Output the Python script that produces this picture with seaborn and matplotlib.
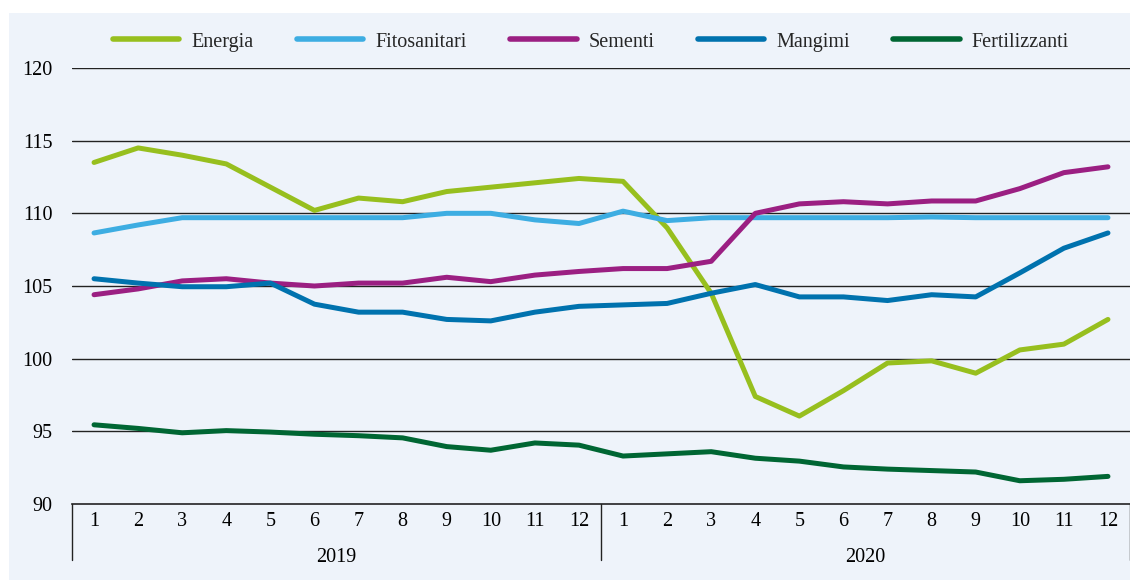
import pandas as pd
import matplotlib.pyplot as plt
import matplotlib.patches as mpatches
import matplotlib.transforms as mtransforms
import seaborn as sns

# Data
months = [str(m) for m in range(1, 13)] * 2
years = ['2019', '2020']

energia = [113.5, 114.5, 114.0, 113.4, 111.8, 110.2, 111.05, 110.8, 111.5, 111.8, 112.1, 112.4,
           112.2, 109.0, 104.5, 97.4, 96.05, 97.8, 99.7, 99.85, 99.0, 100.6, 101.0, 102.7]
fitosanitari = [108.65, 109.2, 109.7, 109.7, 109.7, 109.7, 109.7, 109.7, 110.0, 110.0, 109.55, 109.3,
                110.15, 109.5, 109.7, 109.7, 109.7, 109.7, 109.7, 109.75, 109.7, 109.7, 109.7, 109.7]
sementi = [104.4, 104.8, 105.35, 105.5, 105.2, 105.0, 105.2, 105.2, 105.6, 105.3, 105.75, 106.0,
           106.2, 106.2, 106.7, 110.0, 110.65, 110.8, 110.65, 110.85, 110.85, 111.7, 112.8, 113.2]
mangimi = [105.5, 105.2, 104.95, 104.95, 105.2, 103.75, 103.2, 103.2, 102.7, 102.6, 103.2, 103.6,
           103.7, 103.8, 104.5, 105.1, 104.25, 104.25, 104.0, 104.4, 104.25, 105.9, 107.6, 108.65]
fertilizzanti = [95.45, 95.2, 94.9, 95.05, 94.95, 94.8, 94.7, 94.55, 93.95, 93.7, 94.2, 94.05,
                 93.3, 93.45, 93.6, 93.15, 92.95, 92.55, 92.4, 92.3, 92.2, 91.6, 91.7, 91.9]

series = {
    'Energia': energia,
    'Fitosanitari': fitosanitari,
    'Sementi': sementi,
    'Mangimi': mangimi,
    'Fertilizzanti': fertilizzanti,
}
colors = ['#97BF1E', '#3DADE2', '#9B1F82', '#0072AE', '#006633']

rows = []
for name, vals in series.items():
    for i, v in enumerate(vals):
        rows.append({'t': i, 'value': v, 'serie': name})
df = pd.DataFrame(rows)

sns.set_theme(style='white')
plt.rcParams['font.family'] = ['Liberation Serif', 'DejaVu Serif']

fig = plt.figure(figsize=(11.3, 5.8), dpi=100, facecolor='white')
# light panel behind the chart
fig.patches.append(mpatches.Rectangle((9 / 1130, 0), 1, 1 - 13 / 580,
                                      transform=fig.transFigure, facecolor='#EEF3FA',
                                      edgecolor='none', zorder=-10))
ax = fig.add_axes([72 / 1130, 76 / 580, 1 - 72 / 1130, 436 / 580])
ax.set_facecolor('none')

sns.lineplot(data=df, x='t', y='value', hue='serie', palette=colors, linewidth=3.6,
             ax=ax, legend=False, solid_capstyle='round', zorder=3)

ax.set_xlim(-0.5, 23.5)
ax.set_ylim(90, 120)
ax.set_yticks([90, 95, 100, 105, 110, 115, 120])
ax.tick_params(axis='y', length=0, labelsize=14.5, pad=14, colors='black')
for y in [95, 100, 105, 110, 115, 120]:
    ax.axhline(y, color='#222222', lw=1.0, zorder=1)

for s in ['top', 'right', 'left']:
    ax.spines[s].set_visible(False)
ax.spines['bottom'].set_color('#222222')
ax.spines['bottom'].set_linewidth(1.2)

# month labels with boxed ticks
ax.set_xticks(range(24))
ax.set_xticklabels(months)
ax.tick_params(axis='x', length=0, labelsize=14.5, pad=6, colors='black')
ax.set_xticks([i - 0.5 for i in range(25)], minor=True)
ax.tick_params(axis='x', which='minor', length=23, width=1.0, color='#222222', direction='out')

trans = mtransforms.blended_transform_factory(ax.transData, ax.transAxes)
for xb in [-0.5, 11.5, 23.5]:
    ax.plot([xb, xb], [0, -56 / 436], transform=trans, color='#222222', lw=1.0, clip_on=False)
for j, yr in enumerate(years):
    ax.text(5.5 + 12 * j, -53 / 436, yr, transform=trans, ha='center', va='center',
            fontsize=14.5, color='black')

ax.set_xlabel('')
ax.set_ylabel('')

handles = [plt.Line2D([], [], color=c, lw=4, solid_capstyle='round') for c in colors]
fig.legend(handles, list(series.keys()), loc='center', bbox_to_anchor=(591 / 1130, 1 - 42 / 580),
           ncol=5, frameon=False, fontsize=14.5, handlelength=3.3, handletextpad=0.6,
           columnspacing=2.15)

fig.savefig('out.png', dpi=100, facecolor='white')
